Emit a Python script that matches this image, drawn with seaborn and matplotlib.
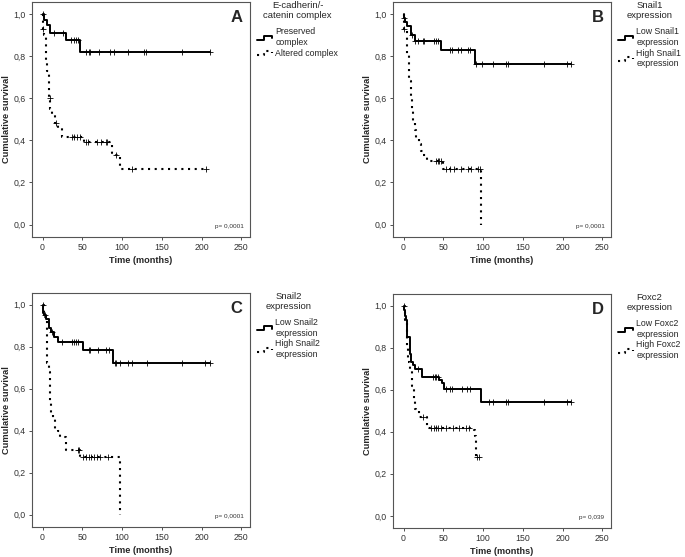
import numpy as np
import pandas as pd
import seaborn as sns
import matplotlib.pyplot as plt
from matplotlib.lines import Line2D
from matplotlib.legend_handler import HandlerBase
from matplotlib.ticker import FuncFormatter

sns.set_theme(style="ticks")
plt.rcParams['font.family'] = ['Liberation Sans', 'DejaVu Sans']

# ---- Panel A : E-cadherin/catenin complex ----
A_lo_t = [0, 2, 5, 9, 29, 47, 211]
A_lo_s = [1.0, 0.97, 0.945, 0.91, 0.875, 0.82, 0.82]
A_lo_c = [1, 14, 26, 36, 39, 42, 44, 55, 58, 60, 71, 85, 90, 107, 128, 130, 175, 211]
A_hi_t = [0, 1, 2, 4, 6, 8, 10, 12, 16, 19, 24, 52, 88, 92, 97, 205]
A_hi_s = [1.0, 0.93, 0.90, 0.78, 0.73, 0.60, 0.55, 0.52, 0.48, 0.46, 0.415, 0.39, 0.34, 0.33, 0.265, 0.265]
A_hi_c = [1, 9, 17, 37, 40, 43, 47, 55, 57, 68, 74, 80, 81, 93, 112, 205]

# ---- Panel B : Snail1 ----
B_lo_t = [0, 1, 2, 5, 9, 14, 47, 90, 211]
B_lo_s = [1.0, 0.98, 0.96, 0.94, 0.90, 0.87, 0.83, 0.763, 0.763]
B_lo_c = [1, 11, 15, 18, 24, 26, 38, 41, 43, 58, 61, 68, 72, 81, 83, 91, 99, 112, 129, 132, 177, 205, 211]
B_hi_t = [0, 1, 4, 7, 9, 11, 12, 14, 16, 19, 22, 24, 29, 50, 97]
B_hi_s = [1.0, 0.93, 0.81, 0.68, 0.60, 0.54, 0.48, 0.45, 0.41, 0.38, 0.35, 0.33, 0.30, 0.265, 0.0]
B_hi_c = [1, 41, 43, 45, 47, 54, 58, 64, 72, 81, 85, 94, 96]

# ---- Panel C : Snail2 ----
C_lo_t = [0, 1, 2, 4, 8, 11, 14, 19, 51, 89, 211]
C_lo_s = [1.0, 0.96, 0.95, 0.93, 0.89, 0.87, 0.845, 0.82, 0.785, 0.723, 0.723]
C_lo_c = [0, 3, 12, 24, 37, 39, 42, 45, 58, 60, 70, 80, 83, 91, 93, 98, 108, 112, 131, 176, 204, 211]
C_hi_t = [0, 2, 5, 6, 8, 9, 11, 13, 16, 19, 22, 30, 47, 97]
C_hi_s = [1.0, 0.94, 0.80, 0.72, 0.68, 0.53, 0.48, 0.46, 0.41, 0.40, 0.37, 0.31, 0.275, 0.0]
C_hi_c = [44, 46, 51, 55, 58, 61, 65, 69, 72, 82]

# ---- Panel D : Foxc2 ----
D_lo_t = [0, 1, 2, 3, 5, 8, 9, 10, 12, 15, 23, 45, 48, 51, 98, 211]
D_lo_s = [1.0, 0.98, 0.95, 0.93, 0.85, 0.77, 0.75, 0.73, 0.72, 0.70, 0.66, 0.645, 0.63, 0.605, 0.543, 0.543]
D_lo_c = [0, 18, 37, 39, 41, 43, 54, 58, 61, 73, 80, 83, 108, 113, 129, 132, 177, 205, 211]
D_hi_t = [0, 2, 4, 5, 6, 8, 11, 13, 15, 16, 20, 29, 89, 90, 91, 95]
D_hi_s = [1.0, 0.93, 0.85, 0.80, 0.73, 0.70, 0.62, 0.55, 0.51, 0.50, 0.47, 0.42, 0.41, 0.38, 0.28, 0.28]
D_hi_c = [25, 35, 38, 41, 43, 47, 54, 62, 70, 79, 82, 92, 95]

panels = [
    dict(letter="A", title="E-cadherin/-\ncatenin complex",
         labels=["Preserved\ncomplex", "Altered complex"], p="p= 0,0001",
         lo=(A_lo_t, A_lo_s, A_lo_c), hi=(A_hi_t, A_hi_s, A_hi_c)),
    dict(letter="B", title="Snail1\nexpression",
         labels=["Low Snail1\nexpression", "High Snail1\nexpression"], p="p= 0,0001",
         lo=(B_lo_t, B_lo_s, B_lo_c), hi=(B_hi_t, B_hi_s, B_hi_c)),
    dict(letter="C", title="Snail2\nexpression",
         labels=["Low Snail2\nexpression", "High Snail2\nexpression"], p="p= 0,0001",
         lo=(C_lo_t, C_lo_s, C_lo_c), hi=(C_hi_t, C_hi_s, C_hi_c)),
    dict(letter="D", title="Foxc2\nexpression",
         labels=["Low Foxc2\nexpression", "High Foxc2\nexpression"], p="p= 0,039",
         lo=(D_lo_t, D_lo_s, D_lo_c), hi=(D_hi_t, D_hi_s, D_hi_c)),
]

positions = [[0.047, 0.575, 0.318, 0.421],
             [0.574, 0.575, 0.318, 0.421],
             [0.047, 0.054, 0.318, 0.420],
             [0.574, 0.052, 0.318, 0.420]]

DOT = (0, (1.0, 2.2))


class StepHandler(HandlerBase):
    # legend key drawn as a little survival step
    def create_artists(self, legend, orig_handle, xdescent, ydescent,
                       width, height, fontsize, trans):
        xs = np.array([0, 0.45, 0.45, 1.0, 1.0]) * width - xdescent
        ys = np.array([0.15, 0.15, 0.8, 0.8, 0.45]) * height - ydescent
        ln = Line2D(xs, ys)
        ln.update_from(orig_handle)
        ln.set_data(xs, ys)
        ln.set_transform(trans)
        return [ln]


def surv_at(t, s, c):
    idx = np.searchsorted(np.array(t), np.array(c), side='right') - 1
    return np.array(s)[idx]


fig = plt.figure(figsize=(6.85, 5.57), dpi=100)

for pos, pan in zip(positions, panels):
    ax = fig.add_axes(pos)
    rows = []
    cens = []
    for grp, (t, s, c) in zip(["lo", "hi"], [pan["lo"], pan["hi"]]):
        rows.append(pd.DataFrame({"time": t, "surv": s, "group": grp}))
        cens.append(pd.DataFrame({"time": c, "surv": surv_at(t, s, c), "group": grp}))
    df = pd.concat(rows, ignore_index=True)
    dc = pd.concat(cens, ignore_index=True)

    sns.lineplot(data=df, x="time", y="surv", style="group", color="black",
                 dashes={"lo": "", "hi": (1.0, 2.2)}, drawstyle="steps-post",
                 estimator=None, sort=False, legend=False, ax=ax)
    for line, lw in zip(ax.lines, [1.4, 1.5]):
        line.set_linewidth(lw)
    sns.scatterplot(data=dc, x="time", y="surv", marker="+", color="black",
                    s=14, linewidth=0.6, legend=False, ax=ax)

    ax.set_xlim(-13, 261)
    ax.set_ylim(-0.058, 1.055)
    ax.set_xticks([0, 50, 100, 150, 200, 250])
    ax.set_yticks([0, 0.2, 0.4, 0.6, 0.8, 1.0])
    ax.yaxis.set_major_formatter(FuncFormatter(lambda v, _: f"{v:.1f}".replace(".", ",")))
    ax.tick_params(labelsize=6.3, length=2.5, width=0.6, pad=2, colors="#333333")
    ax.set_xlabel("Time (months)", fontsize=6.6, fontweight="bold", labelpad=3)
    ax.set_ylabel("Cumulative survival", fontsize=6.7, fontweight="bold")
    ax.yaxis.set_label_coords(-0.097, 0.5)
    for sp in ax.spines.values():
        sp.set_visible(True)
        sp.set_linewidth(0.8)
        sp.set_color("#555555")

    ax.text(0.965, 0.965, pan["letter"], transform=ax.transAxes, ha="right", va="top",
            fontsize=12, fontweight="bold")
    ax.text(0.97, 0.045, pan["p"], transform=ax.transAxes, ha="right", va="center",
            fontsize=4.6, color="#333333")

    handles = [Line2D([], [], color="black", linewidth=1.4),
               Line2D([], [], color="black", linewidth=1.5, linestyle=DOT)]
    leg = ax.legend(handles, pan["labels"], title=pan["title"], loc="upper left",
                    bbox_to_anchor=(1.0, 1.035), frameon=False, fontsize=6.3,
                    title_fontsize=6.8, handler_map={Line2D: StepHandler()},
                    handlelength=1.7, handletextpad=0.4, labelspacing=0.2,
                    borderpad=0.3)
    leg.get_title().set_multialignment("center")
    leg._legend_box.sep = 5

fig.savefig("out.png", dpi=100)
